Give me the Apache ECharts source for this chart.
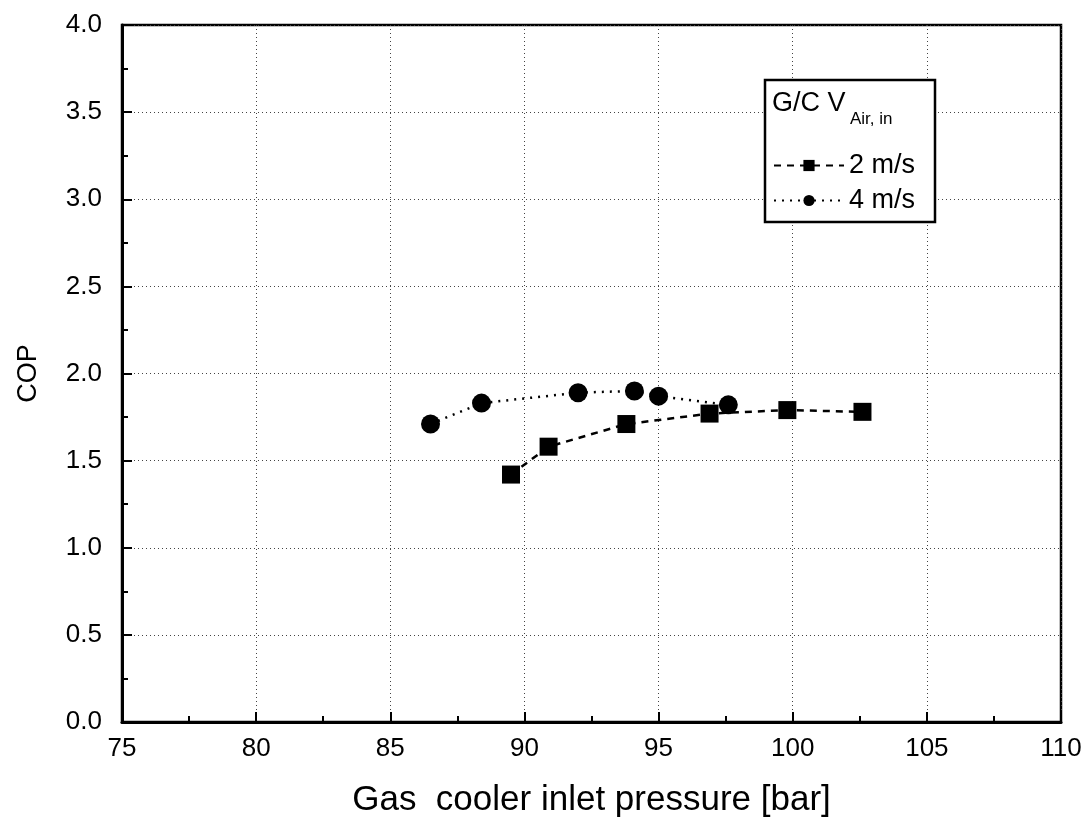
<!DOCTYPE html>
<html>
<head>
<meta charset="utf-8">
<script src="https://cdn.jsdelivr.net/npm/echarts@6/dist/echarts.min.js"></script>
<style>html,body{margin:0;padding:0;background:#fff}#c{width:1086px;height:829px}</style>
</head>
<body>
<div id="c"></div>
<script>
const xTicks = [75, 80, 85, 90, 95, 100, 105, 110];
const seriesNames = ['2 m/s', '4 m/s'];
const x2 = [89.5, 90.9, 93.8, 96.9, 99.8, 102.6];
const y2 = [1.42, 1.58, 1.71, 1.77, 1.79, 1.78];
const x4 = [86.5, 88.4, 92.0, 94.1, 95.0, 97.6];
const y4 = [1.71, 1.83, 1.89, 1.90, 1.87, 1.82];

const FONT = 'Liberation Sans, Arial, sans-serif';
const chart = echarts.init(document.getElementById('c'));
chart.setOption({
  backgroundColor: '#fff',
  animation: false,
  grid: { left: 122, right: 25, top: 25, bottom: 107, show: true, borderColor: '#000', borderWidth: 2.5, backgroundColor: 'transparent' },
  xAxis: {
    type: 'value', min: xTicks[0], max: xTicks[xTicks.length - 1], interval: 5,
    name: 'Gas  cooler inlet pressure [bar]', nameLocation: 'middle', nameGap: 61,
    nameTextStyle: { fontFamily: FONT, fontSize: 35, color: '#000' },
    axisLine: { show: true, lineStyle: { color: '#000', width: 3 } },
    axisTick: { show: true, inside: true, length: 10, lineStyle: { color: '#000', width: 2 } },
    minorTick: { show: true, splitNumber: 2, length: 6, lineStyle: { color: '#000', width: 2 } },
    axisLabel: { fontFamily: FONT, fontSize: 26, color: '#000', margin: 14 },
    splitLine: { show: true, lineStyle: { color: '#444', type: [1, 3], width: 1 } }
  },
  yAxis: {
    type: 'value', min: 0, max: 4, interval: 0.5,
    name: 'COP', nameLocation: 'middle', nameGap: 80,
    nameTextStyle: { fontFamily: FONT, fontSize: 27, color: '#000' },
    axisLine: { show: true, lineStyle: { color: '#000', width: 3 } },
    axisTick: { show: true, inside: true, length: 10, lineStyle: { color: '#000', width: 2 } },
    minorTick: { show: true, splitNumber: 2, length: 6, lineStyle: { color: '#000', width: 2 } },
    axisLabel: { fontFamily: FONT, fontSize: 26, color: '#000', margin: 20, formatter: v => v.toFixed(1) },
    splitLine: { show: true, lineStyle: { color: '#444', type: [1, 3], width: 1 } }
  },
  legend: {
    left: 768, top: 147, orient: 'vertical', itemWidth: 70, itemHeight: 14, itemGap: 8, z: 100,
    textStyle: { fontFamily: FONT, fontSize: 27, color: '#000' },
    data: seriesNames
  },
  graphic: [
    { type: 'rect', shape: { x: 765, y: 80, width: 170, height: 142 }, style: { fill: '#fff', stroke: '#000', lineWidth: 2.5 }, z: 5 },
    { type: 'text', left: 772, top: 90, z: 60, style: { text: 'G/C V', fontFamily: FONT, fontSize: 27, fill: '#000' } },
    { type: 'text', left: 850, top: 111, z: 60, style: { text: 'Air, in', fontFamily: FONT, fontSize: 17, fill: '#000' } }
  ],
  series: [
    { name: seriesNames[0], type: 'line', data: x2.map((v, i) => [v, y2[i]]), symbol: 'rect', symbolSize: 18,
      itemStyle: { color: '#000' }, lineStyle: { color: '#000', width: 2.5, type: [7, 6] }, z: 10 },
    { name: seriesNames[1], type: 'line', data: x4.map((v, i) => [v, y4[i]]), symbol: 'circle', symbolSize: 19,
      itemStyle: { color: '#000' }, lineStyle: { color: '#000', width: 2.5, type: [2, 6] }, z: 10 }
  ]
});
</script>
</body>
</html>
